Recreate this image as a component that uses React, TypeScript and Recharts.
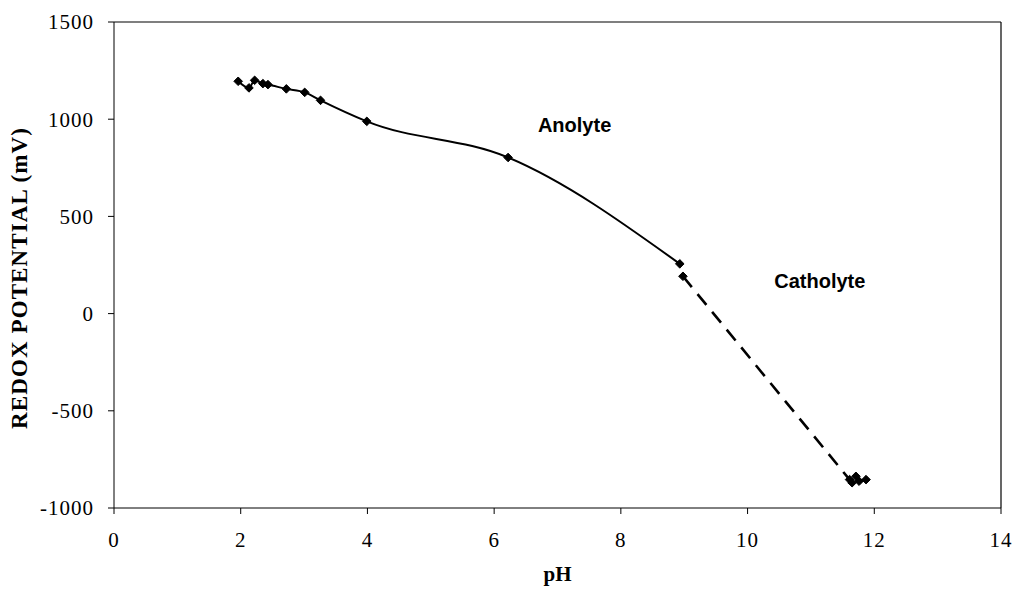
import React from 'react';
import {
  LineChart,
  Line,
  XAxis,
  YAxis,
  ReferenceDot,
  ReferenceLine,
} from 'recharts';

// pH / redox potential readings (mV)
const anolytePh = [1.96, 2.13, 2.22, 2.35, 2.43, 2.72, 3.01, 3.26, 3.99, 6.22, 8.93];
const anolyteMv = [1195, 1161, 1200, 1183, 1178, 1156, 1138, 1097, 989, 803, 256];

const catholytePh = [8.98, 11.61, 11.65, 11.71, 11.76, 11.87];
const catholyteMv = [192, -854, -870, -837, -862, -854];

const xTicks = [0, 2, 4, 6, 8, 10, 12, 14];
const yTicks = [-1000, -500, 0, 500, 1000, 1500];

const anolyte = anolytePh.map((ph, i) => ({ ph, mv: anolyteMv[i] }));
const catholyte = catholytePh.map((ph, i) => ({ ph, mv: catholyteMv[i] }));

const serif = '"Liberation Serif", "Times New Roman", serif';
const sans = '"Liberation Sans", Arial, sans-serif';

const tickStyle = { fill: '#000', fontSize: 21, fontFamily: serif, letterSpacing: 1 };

const Diamond = (props: any) => {
  const { cx, cy } = props;
  if (cx == null || cy == null) return null;
  const r = 4.3;
  return (
    <path
      d={`M${cx},${cy - r}L${cx + r},${cy}L${cx},${cy + r}L${cx - r},${cy}Z`}
      fill="#000"
      stroke="#000"
      strokeWidth={1}
    />
  );
};

const Note = ({ text }: { text: string }) => (props: any) => {
  const { viewBox } = props;
  const x = viewBox.x ?? viewBox.cx;
  const y = viewBox.y ?? viewBox.cy;
  return (
    <text
      x={x}
      y={y}
      textAnchor="middle"
      dominantBaseline="central"
      fontFamily={sans}
      fontWeight="bold"
      fontSize={20}
      fill="#000"
    >
      {text}
    </text>
  );
};

export default function App() {
  return (
    <div style={{ position: 'absolute', left: 0, top: 0, background: '#fff' }}>
      <LineChart
        width={1012}
        height={592}
        margin={{ top: 22, right: 11, bottom: 0, left: 0 }}
      >
        <XAxis
          type="number"
          dataKey="ph"
          domain={[0, 14]}
          ticks={xTicks}
          interval={0}
          height={84}
          stroke="#000"
          tickSize={6}
          tickMargin={18}
          tick={tickStyle}
          label={{
            value: 'pH',
            position: 'center',
            dy: 24,
            style: { fontFamily: serif, fontWeight: 'bold', fontSize: 21, fill: '#000' },
          }}
        />
        <YAxis
          type="number"
          dataKey="mv"
          domain={[-1000, 1500]}
          ticks={yTicks}
          interval={0}
          width={114}
          stroke="#000"
          tickSize={6}
          tickMargin={14}
          tick={tickStyle}
          label={{
            value: 'REDOX POTENTIAL (mV)',
            angle: -90,
            position: 'center',
            dx: -38,
            dy: 13,
            style: {
              fontFamily: serif,
              fontWeight: 'bold',
              fontSize: 23,
              letterSpacing: 1.1,
              fill: '#000',
              textAnchor: 'middle',
            },
          }}
        />
        <ReferenceLine y={1500} stroke="#000" strokeWidth={1.2} />
        <ReferenceLine x={14} stroke="#000" strokeWidth={1.2} />
        <Line
          data={anolyte}
          dataKey="mv"
          type="monotone"
          stroke="#000"
          strokeWidth={2}
          dot={<Diamond />}
          activeDot={false}
          isAnimationActive={false}
        />
        <Line
          data={catholyte}
          dataKey="mv"
          type="linear"
          stroke="#000"
          strokeWidth={2.6}
          strokeDasharray="14 9"
          dot={<Diamond />}
          activeDot={false}
          isAnimationActive={false}
        />
        <ReferenceDot x={7.27} y={970} r={0} stroke="none" label={Note({ text: 'Anolyte' })} />
        <ReferenceDot x={11.14} y={170} r={0} stroke="none" label={Note({ text: 'Catholyte' })} />
      </LineChart>
    </div>
  );
}
